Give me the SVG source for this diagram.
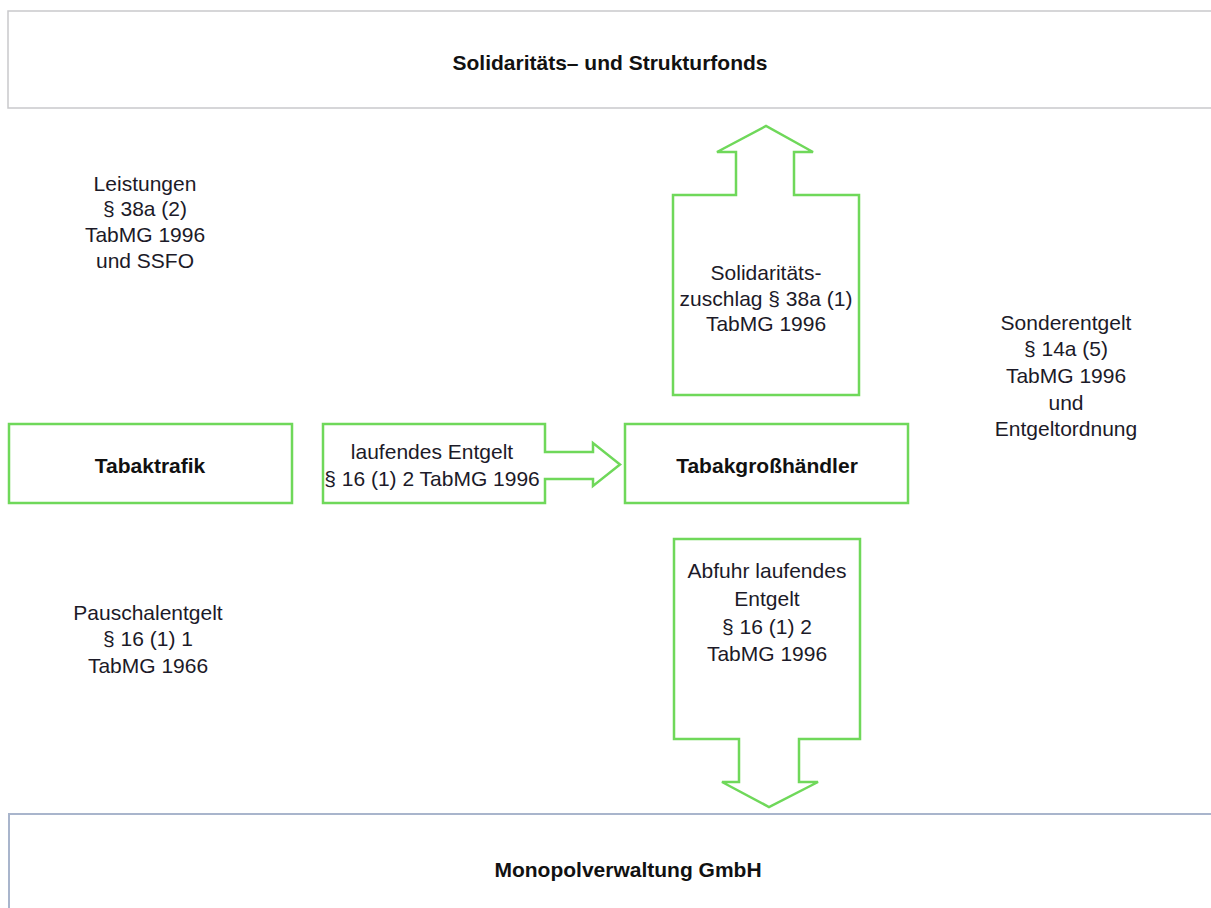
<svg xmlns="http://www.w3.org/2000/svg" width="1211" height="908" viewBox="0 0 1211 908">
<style>
.bg{fill:#ffffff}
.frame-top{fill:#ffffff;stroke:#c9c9cc;stroke-width:1.5}
.frame-bot{fill:#ffffff;stroke:#a9b5cc;stroke-width:2}
.green{fill:#ffffff;stroke:#6fd85a;stroke-width:2.5;stroke-linejoin:miter}
.t{font-family:"Liberation Sans",Arial,sans-serif;font-size:21px;fill:#1c1a28;text-anchor:middle;dominant-baseline:central}
.b{font-family:"Liberation Sans",Arial,sans-serif;font-size:21px;font-weight:bold;fill:#111111;text-anchor:middle;dominant-baseline:central}
</style>
<rect class="bg" x="0" y="0" width="1211" height="908"/>
<g id="fonds">
<rect class="frame-top" x="8" y="11" width="1210" height="97"/>
<text class="b" x="610" y="62">Solidaritäts– und Strukturfonds</text>
</g>
<g id="monopol">
<rect class="frame-bot" x="9" y="814" width="1210" height="110"/>
<text class="b" x="628" y="869">Monopolverwaltung GmbH</text>
</g>
<g id="tabaktrafik">
<rect class="green" x="9" y="424" width="283" height="79"/>
<text class="b" x="150" y="465">Tabaktrafik</text>
</g>
<g id="grosshaendler">
<rect class="green" x="625" y="424" width="283" height="79"/>
<text class="b" x="767" y="465">Tabakgroßhändler</text>
</g>
<g id="connectors">
<g id="laufendes-entgelt">
<path class="green" d="M323,424 L545,424 L545,452 L593,452 L593,443 L620,464.5 L593,486 L593,479 L545,479 L545,503 L323,503 Z"/>
<text class="t" x="432" y="451">laufendes Entgelt</text>
<text class="t" x="432" y="478">§ 16 (1) 2 TabMG 1996</text>
</g>
<g id="solidaritaetszuschlag">
<path class="green" d="M673,395 L673,195 L736,195 L736,152 L717,152 L766,126 L813,152 L794,152 L794,195 L859,195 L859,395 Z"/>
<text class="t" x="766" y="272">Solidaritäts-</text>
<text class="t" x="766" y="298">zuschlag § 38a (1)</text>
<text class="t" x="766" y="323">TabMG 1996</text>
</g>
<g id="abfuhr">
<path class="green" d="M674,539 L860,539 L860,739 L799,739 L799,782 L818,782 L769,807 L722,782 L739,782 L739,739 L674,739 Z"/>
<text class="t" x="767" y="570">Abfuhr laufendes</text>
<text class="t" x="767" y="598">Entgelt</text>
<text class="t" x="767" y="626">§ 16 (1) 2</text>
<text class="t" x="767" y="653">TabMG 1996</text>
</g>
</g>
<g id="label-leistungen">
<text class="t" x="145" y="183">Leistungen</text>
<text class="t" x="145" y="208">§ 38a (2)</text>
<text class="t" x="145" y="234">TabMG 1996</text>
<text class="t" x="145" y="260">und SSFO</text>
</g>
<g id="label-sonderentgelt">
<text class="t" x="1066" y="322">Sonderentgelt</text>
<text class="t" x="1066" y="348">§ 14a (5)</text>
<text class="t" x="1066" y="375">TabMG 1996</text>
<text class="t" x="1066" y="402">und</text>
<text class="t" x="1066" y="428">Entgeltordnung</text>
</g>
<g id="label-pauschalentgelt">
<text class="t" x="148" y="612">Pauschalentgelt</text>
<text class="t" x="148" y="638">§ 16 (1) 1</text>
<text class="t" x="148" y="665">TabMG 1966</text>
</g>
</svg>
